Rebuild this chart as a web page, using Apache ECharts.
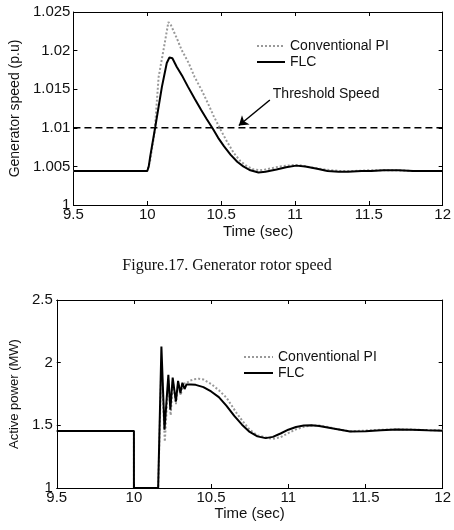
<!DOCTYPE html>
<html>
<head>
<meta charset="utf-8">
<script src="https://cdn.jsdelivr.net/npm/echarts@6/dist/echarts.min.js"></script>
<style>
  html, body { margin: 0; padding: 0; background: #fff; }
  #chart { width: 454px; height: 530px; }
</style>
</head>
<body>
<div id="chart"></div>
<script>
// --- top panel: generator rotor speed (p.u) ---
const speedTimePI = [9.5, 10.0, 10.02, 10.05, 10.077, 10.11, 10.143, 10.16, 10.2, 10.232, 10.28, 10.32, 10.37, 10.41, 10.45, 10.498, 10.54, 10.587, 10.63, 10.676, 10.72, 10.764, 10.8, 10.85, 10.9, 10.95, 11.0, 11.05, 11.1, 11.2, 11.3, 11.4, 11.5, 11.6, 11.7, 11.8, 12.0]
const speedPI = [1.0044, 1.0044, 1.0058, 1.0095, 1.0166, 1.0201, 1.0237, 1.0233, 1.0216, 1.0201, 1.0184, 1.0166, 1.0148, 1.0132, 1.0115, 1.0097, 1.0082, 1.0067, 1.0057, 1.0050, 1.0046, 1.0045, 1.0046, 1.0048, 1.0050, 1.0051, 1.0052, 1.0051, 1.0049, 1.0046, 1.0044, 1.0044, 1.0045, 1.0045, 1.0045, 1.0044, 1.0044]
const speedTimeFLC = [9.5, 10.0, 10.01, 10.02, 10.054, 10.099, 10.132, 10.15, 10.17, 10.199, 10.24, 10.276, 10.32, 10.365, 10.403, 10.443, 10.48, 10.52, 10.565, 10.609, 10.65, 10.698, 10.753, 10.8, 10.875, 10.94, 11.008, 11.07, 11.15, 11.22, 11.296, 11.36, 11.45, 11.518, 11.6, 11.7, 11.8, 11.96, 12.0]
const speedFLC = [1.0044, 1.0044, 1.0050, 1.0063, 1.0101, 1.0153, 1.0184, 1.0191, 1.0190, 1.0179, 1.0166, 1.0153, 1.0138, 1.0123, 1.0111, 1.0099, 1.0087, 1.0076, 1.0065, 1.0056, 1.0050, 1.0045, 1.0042, 1.0043, 1.0046, 1.0049, 1.0051, 1.0050, 1.0047, 1.0044, 1.0043, 1.0043, 1.0044, 1.0044, 1.0045, 1.0045, 1.0044, 1.0044, 1.0044]
const thresholdTime = [9.5, 12]
const thresholdSpeed = [1.01, 1.01]
const thresholdLabelAt = [10.85, 1.0144]
const arrowFrom = [10.83, 1.0136]
const arrowTo = [10.62, 1.0103]

// --- bottom panel: active power (MW) ---
const powerTimePI = [9.5, 10.0, 10.0, 10.157, 10.178, 10.2, 10.223, 10.238, 10.252, 10.272, 10.287, 10.303, 10.318, 10.335, 10.36, 10.39, 10.42, 10.45, 10.5, 10.55, 10.6, 10.664, 10.7, 10.75, 10.8, 10.874, 10.9, 10.95, 11.0, 11.05, 11.1, 11.15, 11.2, 11.25, 11.3, 11.4, 11.5, 11.6, 11.7, 11.8, 11.9, 12.0]
const powerPI = [1.455, 1.455, 1.0, 1.0, 2.0, 1.37, 1.86, 1.58, 1.85, 1.67, 1.84, 1.74, 1.84, 1.83, 1.855, 1.868, 1.872, 1.866, 1.83, 1.78, 1.72, 1.6, 1.54, 1.465, 1.42, 1.398, 1.392, 1.405, 1.438, 1.468, 1.488, 1.499, 1.498, 1.488, 1.474, 1.452, 1.458, 1.465, 1.468, 1.466, 1.462, 1.46]
const powerTimeFLC = [9.5, 10.0, 10.0, 10.157, 10.178, 10.198, 10.223, 10.236, 10.251, 10.272, 10.286, 10.301, 10.314, 10.328, 10.34, 10.37, 10.4, 10.45, 10.5, 10.55, 10.6, 10.65, 10.7, 10.75, 10.8, 10.853, 10.9, 10.95, 11.0, 11.05, 11.1, 11.15, 11.2, 11.3, 11.4, 11.5, 11.6, 11.7, 11.8, 11.9, 12.0]
const powerFLC = [1.455, 1.455, 1.0, 1.0, 2.128, 1.465, 1.903, 1.624, 1.881, 1.69, 1.855, 1.757, 1.84, 1.79, 1.825, 1.825, 1.823, 1.805, 1.77, 1.725, 1.655, 1.575, 1.505, 1.447, 1.412, 1.398, 1.408, 1.435, 1.465, 1.487, 1.499, 1.501, 1.495, 1.472, 1.45, 1.452, 1.46, 1.466, 1.465, 1.46, 1.456]

const timeTicks = { min: 9.5, max: 12, interval: 0.5 }
const speedTicks = { min: 1, max: 1.025, interval: 0.005 }
const powerTicks = { min: 1, max: 2.5, interval: 0.5 }

const FONT = "'Liberation Sans', Arial, sans-serif"
const PI_COLOR = '#999'
const FLC_COLOR = '#000'
const pairs = (xs, ys) => xs.map((x, i) => [x, ys[i]])

function frameAxis(gridIndex, position, ticks, extra = {}) {
  return {
    type: 'value',
    gridIndex,
    position,
    min: ticks.min,
    max: ticks.max,
    interval: ticks.interval,
    axisLine: { show: true, onZero: false, lineStyle: { color: '#000', width: 1 } },
    axisTick: { show: true, inside: true, length: 4, lineStyle: { color: '#000' } },
    splitLine: { show: false },
    axisLabel: { show: false },
    ...extra
  }
}

const tickLabel = { show: true, color: '#111', fontFamily: FONT, fontSize: 15 }
const axisName = (size) => ({ color: '#111', fontFamily: FONT, fontSize: size })

function legendAt(left, top, width) {
  return {
    left, top, orient: 'vertical', padding: 0,
    itemWidth: width, itemHeight: 14, itemGap: 2,
    itemStyle: { opacity: 0 },
    data: ['Conventional PI', 'FLC'],
    textStyle: { color: '#111', fontFamily: FONT, fontSize: 14 }
  }
}

function curve(name, xIdx, xs, ys, color, dotted) {
  return {
    name,
    type: 'line', xAxisIndex: xIdx, yAxisIndex: xIdx,
    data: pairs(xs, ys),
    showSymbol: false, symbol: 'none',
    itemStyle: { color },
    lineStyle: { color, width: 2, type: dotted ? [2, 2] : 'solid' }
  }
}

const chart = echarts.init(document.getElementById('chart'))

chart.setOption({
  animation: false,
  backgroundColor: '#fff',
  grid: [
    { left: 70, top: 12, right: 8, height: 193 },
    { left: 48, top: 300, right: 8, height: 188 }
  ],
  xAxis: [
    frameAxis(0, 'bottom', timeTicks, {
      axisLabel: { ...tickLabel, margin: 2 },
      name: 'Time (sec)', nameLocation: 'middle', nameGap: 19, nameTextStyle: axisName(15)
    }),
    frameAxis(0, 'top', timeTicks),
    frameAxis(1, 'bottom', timeTicks, {
      axisLabel: { ...tickLabel, margin: 2 },
      name: 'Time (sec)', nameLocation: 'middle', nameGap: 17, nameTextStyle: axisName(15)
    }),
    frameAxis(1, 'top', timeTicks)
  ],
  yAxis: [
    frameAxis(0, 'left', speedTicks, {
      axisLabel: { ...tickLabel, margin: 3 },
      name: 'Generator speed (p.u)', nameLocation: 'middle', nameGap: 45, nameTextStyle: axisName(14)
    }),
    frameAxis(0, 'right', speedTicks),
    frameAxis(1, 'left', powerTicks, {
      axisLabel: { ...tickLabel, margin: 4 },
      name: 'Active power (MW)', nameLocation: 'middle', nameGap: 30, nameTextStyle: axisName(13)
    }),
    frameAxis(1, 'right', powerTicks)
  ],
  legend: [legendAt(256, 39, 28), legendAt(243, 350, 29)],
  graphic: [
    {
      type: 'text', left: 'center', top: 258,
      style: { text: 'Figure.17. Generator rotor speed', fill: '#111', font: "16px 'Liberation Serif', 'Times New Roman', serif" }
    }
  ],
  series: [
    {
      name: 'Threshold',
      type: 'line', xAxisIndex: 0, yAxisIndex: 0,
      data: pairs(thresholdTime, thresholdSpeed),
      showSymbol: false, symbol: 'none',
      lineStyle: { color: '#000', width: 1.6, type: [7, 4] },
      markLine: {
        silent: true, symbol: ['none', 'arrow'], symbolSize: 9,
        label: { show: false },
        lineStyle: { color: '#000', width: 1.5, type: 'solid' },
        data: [[{ coord: arrowFrom }, { coord: arrowTo }]]
      },
      markPoint: {
        silent: true, symbol: 'circle', symbolSize: 0,
        label: { show: true, position: 'right', distance: 0, formatter: 'Threshold Speed', color: '#111', fontFamily: FONT, fontSize: 14 },
        data: [{ coord: thresholdLabelAt }]
      }
    },
    curve('Conventional PI', 0, speedTimePI, speedPI, PI_COLOR, true),
    curve('FLC', 0, speedTimeFLC, speedFLC, FLC_COLOR, false),
    curve('Conventional PI', 2, powerTimePI, powerPI, PI_COLOR, true),
    curve('FLC', 2, powerTimeFLC, powerFLC, FLC_COLOR, false)
  ]
})
</script>
</body>
</html>
